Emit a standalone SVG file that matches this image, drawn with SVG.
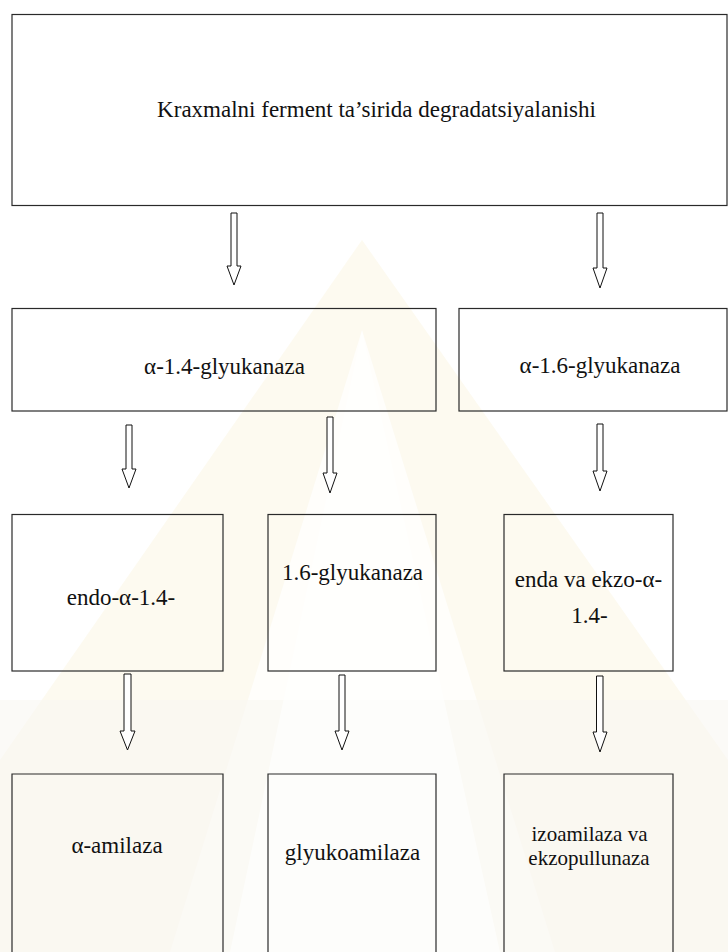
<svg xmlns="http://www.w3.org/2000/svg" width="728" height="952" viewBox="0 0 728 952">
<defs>
<style>
.box{fill:none;stroke:#2a2a2a;stroke-width:1.2}
.lbl{font-family:'Liberation Serif','Times New Roman',serif;font-size:23px;fill:#111;text-anchor:middle}
.sm{font-size:21px}
.arr{fill:#fff;stroke:#111;stroke-width:1}
</style>
</defs>
<g id="background">
<rect x="0" y="0" width="728" height="952" fill="#ffffff"/>
<polygon points="362,240 0,760 0,952 728,952 728,760" fill="#fcf6e6" opacity="0.6"/>
<polygon points="362,330 170,952 555,952" fill="#ffffff" opacity="0.7"/>
<polygon points="0,700 0,952 728,952 728,700" fill="#f9f6f1" opacity="0.6"/>
<polygon points="362,330 230,952 500,952" fill="#ffffff" opacity="0.6"/>
</g>
<g id="connectors">
<path class="arr" d="M231 213 H237 V266 H241 L234 285 L227 266 H231 Z"/>
<path class="arr" d="M597 213 H603 V268 H607 L600 288 L593 268 H597 Z"/>
<path class="arr" d="M126 425 H132 V469 H136 L129 488 L122 469 H126 Z"/>
<path class="arr" d="M327 417 H333 V473 H337 L330 493 L323 473 H327 Z"/>
<path class="arr" d="M597 424 H603 V471 H607 L600 491 L593 471 H597 Z"/>
<path class="arr" d="M124 674 H131 V731 H135 L127.5 750 L120 731 H124 Z"/>
<path class="arr" d="M339 675 H345 V731 H349 L342 750 L335 731 H339 Z"/>
<path class="arr" d="M596.5 676 H603 V732 H607 L600 752 L593 732 H596.5 Z"/>
</g>
<g id="n-start">
<rect class="box" x="12" y="14.5" width="715" height="191"/>
<text class="lbl" x="376.5" y="117">Kraxmalni ferment ta’sirida degradatsiyalanishi</text>
</g>
<g id="n-a14">
<rect class="box" x="12" y="308.5" width="424" height="102.5"/>
<text class="lbl" x="224.5" y="374">α-1.4-glyukanaza</text>
</g>
<g id="n-a16">
<rect class="box" x="459" y="308.5" width="268" height="102.5"/>
<text class="lbl" x="600" y="373">α-1.6-glyukanaza</text>
</g>
<g id="n-endo">
<rect class="box" x="12" y="514.5" width="211" height="156.5"/>
<text class="lbl" x="121" y="605">endo-α-1.4-</text>
</g>
<g id="n-g16">
<rect class="box" x="268" y="514.5" width="168" height="156.5"/>
<text class="lbl" x="352.5" y="580">1.6-glyukanaza</text>
</g>
<g id="n-enda">
<rect class="box" x="504" y="514.5" width="169" height="156.5"/>
<text class="lbl" x="588.5" y="587">enda va ekzo-α-</text>
<text class="lbl" x="589.5" y="623">1.4-</text>
</g>
<g id="n-amilaza">
<path class="box" d="M12 953 V774 H223 V953"/>
<text class="lbl" x="117" y="853">α-amilaza</text>
</g>
<g id="n-glyukoamilaza">
<path class="box" d="M268 953 V774 H436 V953"/>
<text class="lbl" x="352.5" y="860">glyukoamilaza</text>
</g>
<g id="n-izoamilaza">
<path class="box" d="M504 953 V774 H673 V953"/>
<text class="lbl sm" x="589.5" y="841">izoamilaza va</text>
<text class="lbl sm" x="589" y="864.5">ekzopullunaza</text>
</g>
</svg>
